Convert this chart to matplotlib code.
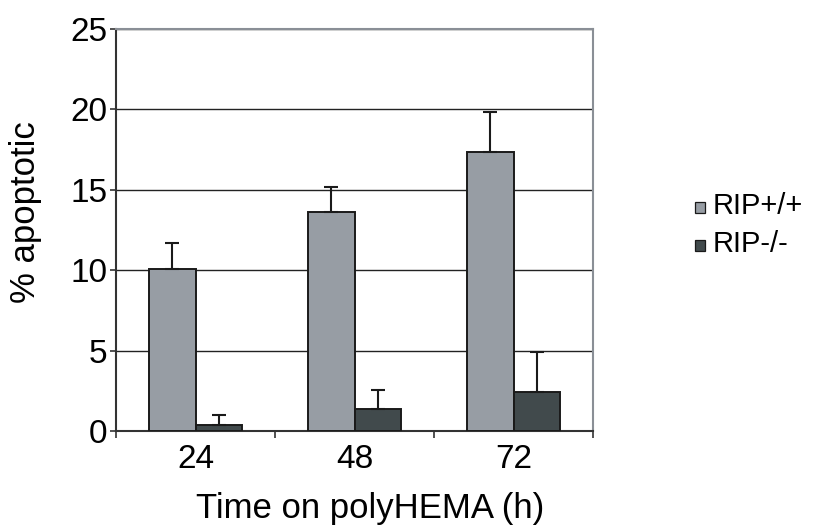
import numpy as np
import matplotlib
matplotlib.rcParams["font.family"] = ["Liberation Sans", "DejaVu Sans"]
import matplotlib.pyplot as plt
from matplotlib.patches import Rectangle

hours = ["24", "48", "72"]
series = ["RIP+/+", "RIP-/-"]
wild = [10.05, 13.65, 17.35]
wild_err = [1.65, 1.55, 2.5]
ko = [0.37, 1.35, 2.4]
ko_err = [0.6, 1.2, 2.5]
colors = ["#979da4", "#414a4c"]

W, H = 817, 531
fig = plt.figure(figsize=(W / 100, H / 100), dpi=100)
ax = fig.add_axes([116 / W, 1 - 431 / H, 477 / W, 402 / H])

x = np.arange(len(hours))
w = 0.295
for vals, errs, off, col in [(wild, wild_err, -w / 2, colors[0]), (ko, ko_err, w / 2, colors[1])]:
    ax.bar(x + off, vals, w, color=col, edgecolor="#1a1a1a", lw=1.4, zorder=3)
    ax.errorbar(x + off, vals, yerr=[np.zeros(3), errs], fmt="none", ecolor="#1a1a1a",
                elinewidth=1.5, capsize=4.7, capthick=1.5, zorder=4)

ax.set_xlim(-0.5, 2.5)
ax.set_ylim(0, 25)
ax.set_yticks(range(0, 26, 5))
ax.yaxis.grid(True, color="#222222", lw=1.0, zorder=0)
ax.set_xticks([-0.5, 0.5, 1.5, 2.5])
ax.set_xticklabels([])
ax.set_xticks(x, minor=True)
ax.set_xticklabels(hours, minor=True)
ax.tick_params(axis="x", which="minor", length=0, labelsize=24, pad=9)
ax.tick_params(axis="x", which="major", length=5, width=1.2, color="#333333")
ax.tick_params(axis="y", length=4, width=1.2, color="#333333", labelsize=24, pad=2)

for side in ["top", "right"]:
    ax.spines[side].set_color("#8a8f96")
    ax.spines[side].set_linewidth(1.5)
for side in ["left", "bottom"]:
    ax.spines[side].set_color("#333333")
    ax.spines[side].set_linewidth(1.5)

ax.set_ylabel("% apoptotic", fontsize=25)
ax.yaxis.set_label_coords(-0.155, 0.545)
ax.set_xlabel("Time on polyHEMA (h)", fontsize=25)
ax.xaxis.set_label_coords(0.533, -0.152)

# legend drawn by hand so the small squares sit on the text baseline
for i, (lab, col) in enumerate(zip(series, colors)):
    ybase = 1 - (213 + 38 * i) / H
    fig.patches.append(Rectangle((695 / W, ybase), 10 / W, 11 / H, transform=fig.transFigure,
                                 facecolor=col, edgecolor="#1a1a1a", lw=0.9))
    fig.text(713 / W, ybase - 1 / H, lab, fontsize=21, va="baseline", ha="left")

fig.savefig("out.png", dpi=100)
